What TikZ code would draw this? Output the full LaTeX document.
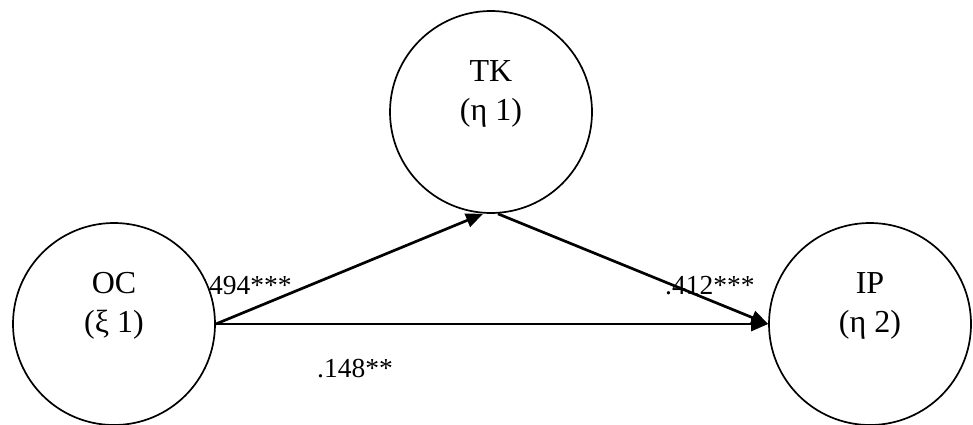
\documentclass[tikz,border=0pt]{standalone}
\usepackage{fontspec}
\setmainfont{Liberation Serif}
\usepackage{tikz}
\usetikzlibrary{positioning,arrows.meta}

\begin{document}
\begin{tikzpicture}[x=1pt,y=-1pt,
    latent/.style={draw, circle, line width=1.7pt, minimum size=202pt, inner sep=0pt},
    vname/.style={align=center, font=\fontsize{32}{39}\selectfont},
    effect/.style={-{Triangle[length=17pt,width=14pt]}, line width=2.7pt},
    coef/.style={anchor=base west, inner sep=0pt, font=\fontsize{27.5}{30}\selectfont}]
    \useasboundingbox (0,0) rectangle (973,425);
    % Latent variables
    \node[latent] (oc) at (114,324) {};
    \node[latent] (tk) at (491,112) {};
    \node[latent] (ip) at (870,324) {};
    \node[vname] (ocname) at ([yshift=18]oc.center) {OC\\(ξ 1)};
    \node[vname] (tkname) at ([yshift=18]tk.center) {TK\\(η 1)};
    \node[vname] (ipname) at ([yshift=18]ip.center) {IP\\(η 2)};
    % Paths
    \draw[effect] (oc.east) -- ([xshift=-8]tk.south);
    \draw[effect] ([xshift=7]tk.south) -- (ip.west);
    \draw[effect] (oc.east) -- (ip.west);
    % Coefficients
    \node[coef] (c494) at (209,294) {494***};
    \node[coef] (c412) at (665,294) {.412***};
    \node[coef] (c148) at (317,377) {.148**};
\end{tikzpicture}
\end{document}
